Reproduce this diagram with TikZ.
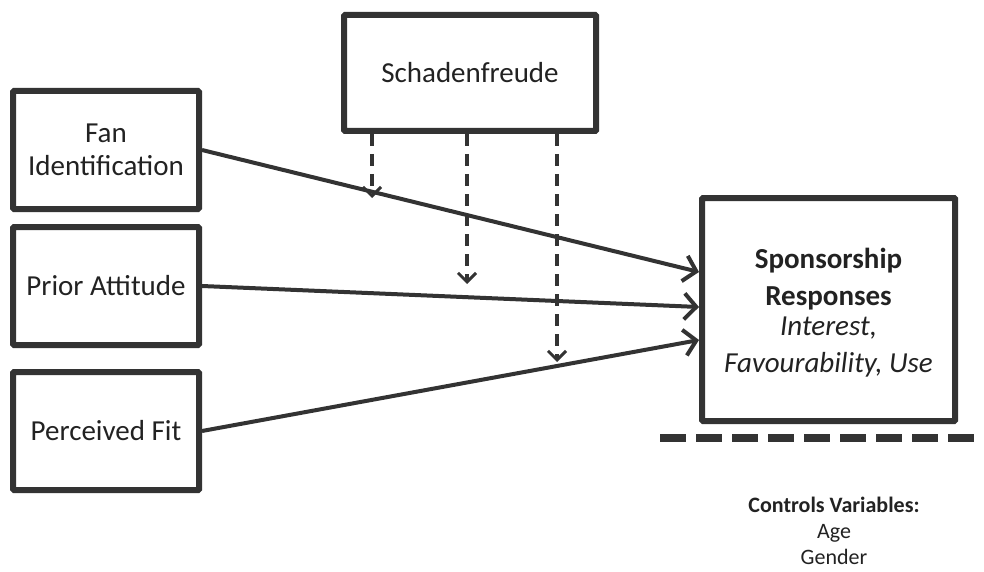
\documentclass[tikz,border=0pt]{standalone}
\usepackage{fontspec}
\setmainfont{Carlito}
\usetikzlibrary{arrows.meta}
\definecolor{ink}{HTML}{333333}
\definecolor{txt}{HTML}{222222}
\tikzset{
  varbox/.style={draw=ink, line width=6pt, rounded corners=1pt, inner sep=0pt, align=center, text=txt, font=\fontsize{29}{33}\selectfont},
  mainarrow/.style={draw=ink, line width=4pt, -{Straight Barb[length=12pt,width=26pt,line width=4pt]}},
  modarrow/.style={draw=ink, line width=3.5pt, dash pattern=on 12pt off 8pt, -{Straight Barb[length=9pt,width=18pt,line width=3pt]}},
}
\begin{document}
\begin{tikzpicture}[x=1pt,y=-1pt]
\useasboundingbox (0,0) rectangle (984,572);
\node[varbox, minimum width=186pt, minimum height=118pt] (fan) at (106,150) {Fan\\Identification};
\node[varbox, minimum width=186pt, minimum height=118pt] (prior) at (106,286) {Prior Attitude};
\node[varbox, minimum width=186pt, minimum height=118pt] (fit) at (106,431) {Perceived Fit};
\node[varbox, minimum width=252pt, minimum height=116pt] (sf) at (470,73) {Schadenfreude};
\node[varbox, minimum width=253pt, minimum height=223pt] (sr) at (828.5,309.5) {};
\node[text=txt, align=center, inner sep=0pt, font=\fontsize{29}{37}\selectfont] (srtext) at ([yshift=-3pt]sr.center) {\textbf{Sponsorship}\\\textbf{Responses}\\[-7pt]\textit{Interest,}\\\textit{Favourability, Use}};
\node[text=txt, align=center, font=\fontsize{22}{26}\selectfont] (ctrl) at (834,531) {\textbf{Controls Variables:}\\Age\\Gender};

\coordinate (t1) at ([yshift=37.5pt]sr.west);
\coordinate (t2) at ([yshift=2.5pt]sr.west);
\coordinate (t3) at ([yshift=-30.5pt]sr.west);
\draw[mainarrow] (fan.east) -- (t1);
\draw[mainarrow] (prior.east) -- (t2);
\draw[mainarrow] (fit.east) -- (t3);

\coordinate (m1) at (372,198);
\coordinate (m2) at (467,284);
\coordinate (m3) at (557,362);
\draw[modarrow] (sf.south -| m1) -- (m1);
\draw[modarrow] (sf.south -| m2) -- (m2);
\draw[modarrow] (sf.south -| m3) -- (m3);

\coordinate (d1) at (660,438);
\coordinate (d2) at (984,438);
\draw[ink, line width=8pt, dash pattern=on 26pt off 10pt] (d1) -- (d2);
\end{tikzpicture}
\end{document}
